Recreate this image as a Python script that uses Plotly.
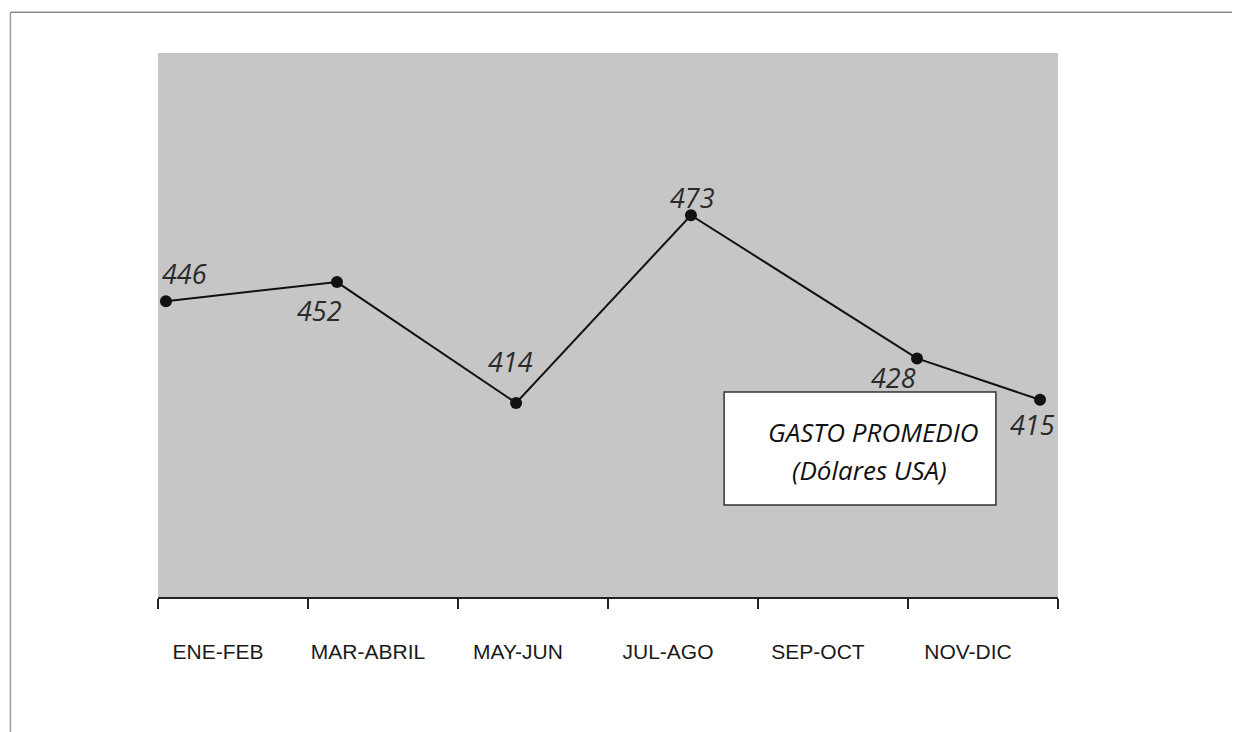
import plotly.graph_objects as go

categories = ["ENE-FEB", "MAR-ABRIL", "MAY-JUN", "JUL-AGO", "SEP-OCT", "NOV-DIC"]
values = [446, 452, 414, 473, 428, 415]
# horizontal position of each point, in category units
point_pos = [0.053, 1.193, 2.387, 3.553, 5.06, 5.88]
# label offsets (pixels) relative to each point
label_dx = [19, -17, -6, 2, -24, -8]
label_dy = [28, -28, 41, 18, -19, -25]

fig = go.Figure()
fig.add_trace(go.Scatter(
    x=point_pos, y=values, mode="lines+markers",
    line=dict(color="#111111", width=2),
    marker=dict(color="#111111", size=12),
    hoverinfo="skip", showlegend=False,
))

for x, v, dx, dy in zip(point_pos, values, label_dx, label_dy):
    fig.add_annotation(x=x, y=v, text=str(v), showarrow=False,
                       xshift=dx, yshift=dy,
                       font=dict(family="Open Sans", size=27, color="#2a2a2a", style="italic"))

# legend-like box
fig.add_shape(type="rect", xref="paper", yref="paper",
              x0=0.629, x1=0.931, y0=0.169, y1=0.377,
              fillcolor="white", line=dict(color="#333333", width=1.5), layer="above")
fig.add_annotation(xref="paper", yref="paper", x=0.913, y=0.303,
                   xanchor="right", yanchor="middle",
                   text="GASTO PROMEDIO", showarrow=False,
                   font=dict(family="Open Sans", size=26, color="#111111", style="italic"))
fig.add_annotation(xref="paper", yref="paper", x=0.791, y=0.233,
                   xanchor="center", yanchor="middle",
                   text="(Dólares USA)", showarrow=False,
                   font=dict(family="Open Sans", size=26, color="#111111", style="italic"))

# page frame lines
fig.add_shape(type="line", xref="paper", yref="paper", x0=-0.164, x1=1.21, y0=1.075, y1=1.075,
              line=dict(color="#8a8a8a", width=1.5))
fig.add_shape(type="line", xref="paper", yref="paper", x0=-0.164, x1=-0.164, y0=1.075, y1=-0.27,
              line=dict(color="#9a9a9a", width=1.5))

fig.update_layout(
    width=1240, height=732,
    margin=dict(l=150, r=190, t=45, b=143),
    paper_bgcolor="white",
    plot_bgcolor="#c6c6c6",
    xaxis=dict(
        range=[0, 6], showgrid=False, zeroline=False,
        tickvals=[i + 0.4 for i in range(len(categories))],
        ticktext=categories, ticks="",
        ticklabelstandoff=35,
        tickfont=dict(family="Liberation Sans, Arial", size=21, color="#1a1a1a"),
        showline=True, linecolor="#222222", linewidth=2,
        minor=dict(tickvals=list(range(len(categories) + 1)), ticks="outside",
                   ticklen=10, tickcolor="#222222", tickwidth=2),
    ),
    yaxis=dict(range=[353, 524], showgrid=False, zeroline=False,
               showticklabels=False, ticks="", showline=False),
)

fig.write_html("out.html")
